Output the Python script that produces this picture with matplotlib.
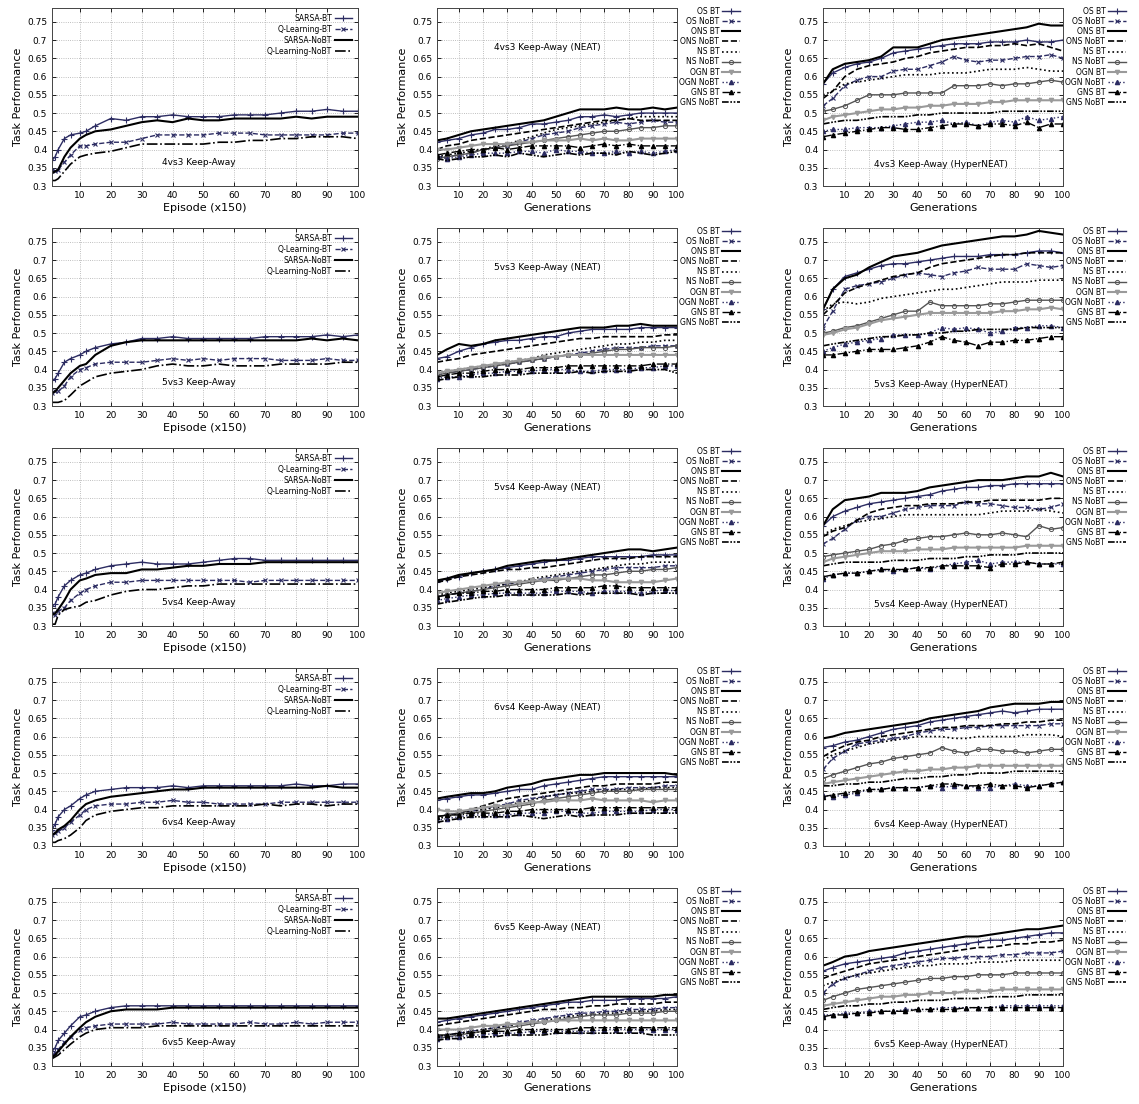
import matplotlib
matplotlib.use('Agg')
import matplotlib.pyplot as plt
from matplotlib.ticker import FuncFormatter, MultipleLocator

rl_x = [1, 2, 3, 5, 7, 10, 12, 15, 20, 25, 30, 35, 40, 45, 50, 55, 60, 65, 70, 75, 80, 85, 90, 95, 100]
ea_x = [1, 5, 10, 15, 20, 25, 30, 35, 40, 45, 50, 55, 60, 65, 70, 75, 80, 85, 90, 95, 100]

scenarios = ['4vs3', '5vs3', '5vs4', '6vs4', '6vs5']
rl_labels = ['SARSA-BT', 'Q-Learning-BT', 'SARSA-NoBT', 'Q-Learning-NoBT']
ea_labels = ['OS BT', 'OS NoBT', 'ONS BT', 'ONS NoBT', 'NS BT', 'NS NoBT',
             'OGN BT', 'OGN NoBT', 'GNS BT', 'GNS NoBT']

# ---- RL curves (SARSA-BT, Q-BT, SARSA-NoBT, Q-NoBT)
rl_4vs3 = [
    [0.37, 0.38, 0.40, 0.43, 0.44, 0.445, 0.45, 0.465, 0.485, 0.48, 0.49, 0.49, 0.495, 0.49, 0.49, 0.49, 0.495, 0.495, 0.495, 0.50, 0.505, 0.505, 0.51, 0.505, 0.505],
    [0.345, 0.34, 0.345, 0.365, 0.385, 0.41, 0.41, 0.415, 0.42, 0.42, 0.43, 0.44, 0.44, 0.44, 0.44, 0.445, 0.445, 0.445, 0.44, 0.44, 0.44, 0.44, 0.44, 0.445, 0.445],
    [0.335, 0.34, 0.345, 0.38, 0.405, 0.43, 0.44, 0.45, 0.455, 0.465, 0.475, 0.48, 0.475, 0.485, 0.48, 0.48, 0.485, 0.485, 0.485, 0.485, 0.49, 0.485, 0.49, 0.49, 0.49],
    [0.315, 0.315, 0.32, 0.34, 0.36, 0.38, 0.385, 0.39, 0.395, 0.405, 0.415, 0.415, 0.415, 0.415, 0.415, 0.42, 0.42, 0.425, 0.425, 0.43, 0.43, 0.435, 0.435, 0.435, 0.43],
]
rl_5vs3 = [
    [0.37, 0.375, 0.39, 0.42, 0.43, 0.44, 0.45, 0.46, 0.47, 0.475, 0.485, 0.485, 0.49, 0.485, 0.485, 0.485, 0.485, 0.485, 0.49, 0.49, 0.49, 0.49, 0.495, 0.49, 0.495],
    [0.335, 0.34, 0.34, 0.355, 0.38, 0.40, 0.405, 0.415, 0.42, 0.42, 0.42, 0.425, 0.43, 0.425, 0.43, 0.425, 0.43, 0.43, 0.43, 0.425, 0.425, 0.425, 0.43, 0.425, 0.425],
    [0.335, 0.34, 0.35, 0.37, 0.39, 0.41, 0.415, 0.44, 0.465, 0.475, 0.48, 0.48, 0.48, 0.48, 0.48, 0.48, 0.48, 0.48, 0.48, 0.48, 0.48, 0.485, 0.48, 0.485, 0.48],
    [0.31, 0.31, 0.31, 0.315, 0.33, 0.355, 0.365, 0.38, 0.39, 0.395, 0.40, 0.41, 0.415, 0.41, 0.41, 0.415, 0.41, 0.41, 0.41, 0.415, 0.415, 0.415, 0.415, 0.42, 0.42],
]
rl_5vs4 = [
    [0.355, 0.36, 0.38, 0.41, 0.425, 0.44, 0.445, 0.455, 0.465, 0.47, 0.475, 0.47, 0.47, 0.47, 0.475, 0.48, 0.485, 0.485, 0.48, 0.48, 0.48, 0.48, 0.48, 0.48, 0.48],
    [0.335, 0.33, 0.34, 0.35, 0.37, 0.39, 0.40, 0.41, 0.42, 0.42, 0.425, 0.425, 0.425, 0.425, 0.425, 0.425, 0.425, 0.42, 0.425, 0.425, 0.425, 0.425, 0.425, 0.425, 0.425],
    [0.33, 0.335, 0.345, 0.37, 0.40, 0.425, 0.43, 0.44, 0.445, 0.445, 0.455, 0.455, 0.46, 0.465, 0.465, 0.47, 0.47, 0.47, 0.475, 0.475, 0.475, 0.475, 0.475, 0.475, 0.475],
    [0.305, 0.305, 0.33, 0.345, 0.35, 0.355, 0.365, 0.37, 0.385, 0.395, 0.40, 0.40, 0.405, 0.41, 0.41, 0.415, 0.415, 0.415, 0.415, 0.415, 0.415, 0.415, 0.415, 0.415, 0.415],
]
rl_6vs4 = [
    [0.345, 0.36, 0.38, 0.40, 0.41, 0.43, 0.44, 0.45, 0.455, 0.46, 0.46, 0.46, 0.465, 0.46, 0.465, 0.465, 0.465, 0.465, 0.465, 0.465, 0.47, 0.465, 0.465, 0.47, 0.47],
    [0.33, 0.335, 0.34, 0.35, 0.365, 0.385, 0.40, 0.41, 0.415, 0.415, 0.42, 0.42, 0.425, 0.42, 0.42, 0.415, 0.415, 0.415, 0.415, 0.42, 0.42, 0.42, 0.42, 0.42, 0.42],
    [0.33, 0.335, 0.345, 0.355, 0.37, 0.40, 0.415, 0.425, 0.435, 0.44, 0.445, 0.45, 0.455, 0.455, 0.46, 0.46, 0.46, 0.46, 0.46, 0.46, 0.46, 0.46, 0.465, 0.46, 0.46],
    [0.31, 0.31, 0.315, 0.32, 0.33, 0.35, 0.37, 0.385, 0.395, 0.40, 0.405, 0.405, 0.41, 0.41, 0.41, 0.41, 0.41, 0.41, 0.415, 0.41, 0.415, 0.415, 0.41, 0.415, 0.415],
]
rl_6vs5 = [
    [0.34, 0.35, 0.37, 0.39, 0.41, 0.435, 0.44, 0.45, 0.46, 0.465, 0.465, 0.465, 0.465, 0.465, 0.465, 0.465, 0.465, 0.465, 0.465, 0.465, 0.465, 0.465, 0.465, 0.465, 0.465],
    [0.33, 0.335, 0.345, 0.365, 0.38, 0.40, 0.405, 0.41, 0.415, 0.415, 0.415, 0.415, 0.42, 0.415, 0.415, 0.415, 0.415, 0.42, 0.415, 0.415, 0.42, 0.415, 0.42, 0.42, 0.42],
    [0.325, 0.33, 0.34, 0.36, 0.38, 0.405, 0.42, 0.435, 0.45, 0.455, 0.455, 0.455, 0.46, 0.46, 0.46, 0.46, 0.46, 0.46, 0.46, 0.46, 0.46, 0.46, 0.46, 0.46, 0.46],
    [0.32, 0.325, 0.33, 0.345, 0.36, 0.38, 0.39, 0.40, 0.405, 0.405, 0.405, 0.41, 0.41, 0.41, 0.41, 0.41, 0.41, 0.41, 0.41, 0.41, 0.41, 0.41, 0.41, 0.41, 0.41],
]

# ---- NEAT curves (order as ea_labels)
neat_4vs3 = [
    [0.42, 0.425, 0.43, 0.44, 0.445, 0.455, 0.455, 0.46, 0.47, 0.47, 0.475, 0.48, 0.49, 0.49, 0.495, 0.49, 0.495, 0.5, 0.5, 0.5, 0.5],
    [0.38, 0.38, 0.385, 0.39, 0.40, 0.405, 0.41, 0.42, 0.43, 0.44, 0.445, 0.45, 0.46, 0.465, 0.47, 0.475, 0.47, 0.475, 0.48, 0.475, 0.475],
    [0.425, 0.43, 0.44, 0.45, 0.455, 0.46, 0.465, 0.47, 0.475, 0.48, 0.49, 0.5, 0.51, 0.51, 0.51, 0.515, 0.51, 0.51, 0.515, 0.51, 0.515],
    [0.40, 0.41, 0.415, 0.425, 0.43, 0.435, 0.44, 0.445, 0.45, 0.455, 0.46, 0.465, 0.47, 0.475, 0.48, 0.48, 0.485, 0.48, 0.48, 0.48, 0.48],
    [0.38, 0.385, 0.39, 0.395, 0.40, 0.41, 0.415, 0.425, 0.435, 0.445, 0.455, 0.46, 0.465, 0.47, 0.475, 0.48, 0.485, 0.49, 0.49, 0.49, 0.49],
    [0.375, 0.38, 0.385, 0.39, 0.40, 0.405, 0.41, 0.415, 0.42, 0.425, 0.43, 0.435, 0.44, 0.445, 0.45, 0.45, 0.455, 0.46, 0.46, 0.465, 0.465],
    [0.40, 0.40, 0.405, 0.41, 0.415, 0.415, 0.415, 0.42, 0.42, 0.425, 0.425, 0.425, 0.43, 0.425, 0.43, 0.425, 0.425, 0.43, 0.43, 0.43, 0.43],
    [0.38, 0.375, 0.38, 0.385, 0.39, 0.39, 0.39, 0.395, 0.395, 0.39, 0.40, 0.395, 0.395, 0.39, 0.39, 0.395, 0.39, 0.395, 0.39, 0.395, 0.40],
    [0.385, 0.39, 0.395, 0.40, 0.40, 0.405, 0.40, 0.405, 0.41, 0.41, 0.41, 0.41, 0.405, 0.41, 0.415, 0.41, 0.415, 0.41, 0.41, 0.41, 0.41],
    [0.375, 0.37, 0.375, 0.38, 0.38, 0.385, 0.38, 0.39, 0.385, 0.38, 0.385, 0.39, 0.385, 0.39, 0.39, 0.385, 0.395, 0.39, 0.385, 0.39, 0.395],
]
neat_5vs3 = [
    [0.43, 0.435, 0.45, 0.46, 0.47, 0.475, 0.48, 0.48, 0.485, 0.49, 0.49, 0.50, 0.505, 0.51, 0.51, 0.51, 0.51, 0.515, 0.515, 0.515, 0.515],
    [0.385, 0.39, 0.395, 0.40, 0.405, 0.41, 0.415, 0.42, 0.425, 0.43, 0.435, 0.44, 0.445, 0.45, 0.455, 0.46, 0.46, 0.46, 0.465, 0.465, 0.465],
    [0.44, 0.455, 0.47, 0.465, 0.47, 0.48, 0.485, 0.49, 0.495, 0.50, 0.505, 0.51, 0.515, 0.515, 0.515, 0.52, 0.52, 0.525, 0.52, 0.52, 0.52],
    [0.42, 0.425, 0.43, 0.44, 0.445, 0.45, 0.455, 0.46, 0.465, 0.47, 0.475, 0.48, 0.485, 0.485, 0.49, 0.49, 0.49, 0.49, 0.49, 0.495, 0.495],
    [0.39, 0.395, 0.40, 0.405, 0.41, 0.415, 0.42, 0.425, 0.43, 0.44, 0.445, 0.45, 0.455, 0.46, 0.465, 0.47, 0.47, 0.475, 0.475, 0.48, 0.48],
    [0.385, 0.39, 0.395, 0.40, 0.405, 0.41, 0.415, 0.42, 0.425, 0.43, 0.435, 0.44, 0.44, 0.445, 0.45, 0.455, 0.455, 0.46, 0.46, 0.46, 0.465],
    [0.39, 0.395, 0.40, 0.405, 0.41, 0.415, 0.42, 0.425, 0.43, 0.435, 0.435, 0.44, 0.44, 0.44, 0.44, 0.44, 0.44, 0.44, 0.44, 0.44, 0.44],
    [0.375, 0.38, 0.38, 0.385, 0.39, 0.39, 0.395, 0.395, 0.395, 0.40, 0.40, 0.40, 0.395, 0.395, 0.40, 0.40, 0.40, 0.405, 0.405, 0.41, 0.41],
    [0.38, 0.385, 0.39, 0.39, 0.395, 0.40, 0.40, 0.40, 0.405, 0.405, 0.405, 0.41, 0.41, 0.41, 0.41, 0.41, 0.41, 0.41, 0.415, 0.415, 0.415],
    [0.37, 0.375, 0.38, 0.38, 0.38, 0.385, 0.385, 0.385, 0.39, 0.39, 0.39, 0.39, 0.395, 0.39, 0.395, 0.395, 0.395, 0.40, 0.40, 0.40, 0.39],
]
neat_5vs4 = [
    [0.42, 0.43, 0.435, 0.445, 0.45, 0.455, 0.46, 0.465, 0.47, 0.475, 0.48, 0.48, 0.485, 0.49, 0.49, 0.49, 0.49, 0.49, 0.495, 0.495, 0.495],
    [0.38, 0.385, 0.39, 0.395, 0.40, 0.41, 0.415, 0.42, 0.425, 0.43, 0.435, 0.44, 0.445, 0.45, 0.455, 0.46, 0.46, 0.46, 0.46, 0.465, 0.465],
    [0.425, 0.43, 0.44, 0.445, 0.45, 0.455, 0.465, 0.47, 0.475, 0.48, 0.48, 0.485, 0.49, 0.495, 0.50, 0.505, 0.51, 0.51, 0.505, 0.51, 0.515],
    [0.42, 0.425, 0.435, 0.44, 0.445, 0.45, 0.455, 0.455, 0.46, 0.46, 0.465, 0.47, 0.475, 0.48, 0.485, 0.485, 0.485, 0.49, 0.49, 0.49, 0.49],
    [0.385, 0.39, 0.395, 0.40, 0.405, 0.41, 0.415, 0.42, 0.43, 0.435, 0.44, 0.445, 0.45, 0.455, 0.46, 0.465, 0.47, 0.47, 0.475, 0.475, 0.475],
    [0.38, 0.385, 0.39, 0.395, 0.40, 0.405, 0.41, 0.415, 0.42, 0.425, 0.425, 0.43, 0.435, 0.44, 0.44, 0.445, 0.45, 0.45, 0.455, 0.455, 0.46],
    [0.39, 0.395, 0.40, 0.405, 0.41, 0.415, 0.42, 0.42, 0.425, 0.425, 0.43, 0.43, 0.43, 0.425, 0.425, 0.42, 0.42, 0.42, 0.42, 0.425, 0.43],
    [0.37, 0.375, 0.38, 0.385, 0.385, 0.39, 0.39, 0.39, 0.39, 0.39, 0.395, 0.395, 0.395, 0.39, 0.395, 0.395, 0.395, 0.39, 0.395, 0.40, 0.395],
    [0.38, 0.385, 0.39, 0.39, 0.395, 0.395, 0.40, 0.40, 0.40, 0.40, 0.405, 0.405, 0.405, 0.405, 0.41, 0.41, 0.405, 0.405, 0.405, 0.405, 0.405],
    [0.36, 0.365, 0.37, 0.375, 0.38, 0.38, 0.385, 0.385, 0.385, 0.385, 0.385, 0.39, 0.385, 0.39, 0.39, 0.39, 0.39, 0.385, 0.39, 0.39, 0.39],
]
neat_6vs4 = [
    [0.425, 0.43, 0.435, 0.44, 0.44, 0.445, 0.45, 0.455, 0.455, 0.465, 0.47, 0.475, 0.48, 0.485, 0.49, 0.49, 0.49, 0.49, 0.49, 0.49, 0.49],
    [0.38, 0.385, 0.39, 0.395, 0.40, 0.41, 0.415, 0.425, 0.43, 0.435, 0.44, 0.445, 0.45, 0.455, 0.455, 0.455, 0.46, 0.46, 0.46, 0.465, 0.465],
    [0.43, 0.435, 0.44, 0.445, 0.445, 0.45, 0.46, 0.465, 0.47, 0.48, 0.485, 0.49, 0.495, 0.495, 0.50, 0.50, 0.50, 0.50, 0.50, 0.50, 0.495],
    [0.38, 0.385, 0.39, 0.40, 0.41, 0.42, 0.43, 0.435, 0.44, 0.445, 0.45, 0.455, 0.46, 0.465, 0.465, 0.47, 0.47, 0.47, 0.47, 0.475, 0.475],
    [0.375, 0.38, 0.39, 0.395, 0.40, 0.405, 0.41, 0.42, 0.425, 0.435, 0.44, 0.445, 0.445, 0.45, 0.45, 0.455, 0.455, 0.455, 0.46, 0.46, 0.46],
    [0.38, 0.385, 0.39, 0.39, 0.395, 0.40, 0.405, 0.41, 0.415, 0.425, 0.43, 0.435, 0.44, 0.445, 0.45, 0.45, 0.45, 0.455, 0.455, 0.455, 0.455],
    [0.40, 0.395, 0.395, 0.40, 0.405, 0.41, 0.41, 0.415, 0.42, 0.42, 0.425, 0.425, 0.425, 0.43, 0.425, 0.425, 0.425, 0.425, 0.42, 0.425, 0.425],
    [0.37, 0.375, 0.38, 0.385, 0.385, 0.385, 0.385, 0.39, 0.39, 0.39, 0.395, 0.395, 0.39, 0.39, 0.395, 0.395, 0.395, 0.395, 0.40, 0.40, 0.40],
    [0.38, 0.385, 0.385, 0.39, 0.39, 0.39, 0.395, 0.395, 0.40, 0.40, 0.40, 0.40, 0.40, 0.405, 0.405, 0.405, 0.405, 0.405, 0.405, 0.405, 0.405],
    [0.365, 0.37, 0.375, 0.38, 0.38, 0.38, 0.38, 0.385, 0.38, 0.375, 0.38, 0.385, 0.38, 0.385, 0.385, 0.385, 0.39, 0.39, 0.39, 0.39, 0.39],
]
neat_6vs5 = [
    [0.42, 0.425, 0.43, 0.435, 0.44, 0.445, 0.45, 0.455, 0.46, 0.465, 0.47, 0.475, 0.475, 0.48, 0.48, 0.48, 0.485, 0.485, 0.485, 0.485, 0.49],
    [0.38, 0.385, 0.39, 0.395, 0.40, 0.405, 0.41, 0.42, 0.425, 0.43, 0.435, 0.44, 0.445, 0.445, 0.45, 0.45, 0.455, 0.455, 0.455, 0.46, 0.46],
    [0.43, 0.43, 0.435, 0.44, 0.445, 0.45, 0.455, 0.46, 0.465, 0.47, 0.475, 0.48, 0.485, 0.49, 0.49, 0.49, 0.49, 0.49, 0.49, 0.495, 0.495],
    [0.41, 0.415, 0.42, 0.425, 0.43, 0.435, 0.44, 0.445, 0.45, 0.455, 0.455, 0.46, 0.46, 0.465, 0.465, 0.47, 0.47, 0.47, 0.47, 0.475, 0.475],
    [0.38, 0.385, 0.39, 0.395, 0.40, 0.405, 0.41, 0.415, 0.42, 0.425, 0.43, 0.435, 0.44, 0.44, 0.445, 0.445, 0.45, 0.45, 0.45, 0.455, 0.455],
    [0.375, 0.38, 0.385, 0.39, 0.395, 0.40, 0.405, 0.41, 0.415, 0.42, 0.425, 0.43, 0.435, 0.44, 0.44, 0.44, 0.445, 0.445, 0.445, 0.45, 0.45],
    [0.40, 0.40, 0.40, 0.405, 0.41, 0.41, 0.415, 0.415, 0.42, 0.42, 0.425, 0.425, 0.425, 0.425, 0.425, 0.425, 0.425, 0.425, 0.425, 0.425, 0.425],
    [0.375, 0.38, 0.38, 0.385, 0.385, 0.39, 0.39, 0.39, 0.395, 0.395, 0.395, 0.395, 0.395, 0.395, 0.40, 0.40, 0.40, 0.40, 0.40, 0.40, 0.40],
    [0.385, 0.385, 0.39, 0.39, 0.395, 0.395, 0.395, 0.40, 0.40, 0.40, 0.40, 0.40, 0.405, 0.405, 0.405, 0.405, 0.405, 0.405, 0.405, 0.405, 0.405],
    [0.37, 0.375, 0.375, 0.38, 0.38, 0.38, 0.385, 0.385, 0.385, 0.385, 0.39, 0.39, 0.39, 0.39, 0.39, 0.39, 0.39, 0.39, 0.385, 0.385, 0.385],
]

# ---- HyperNEAT curves (order as ea_labels)
hyper_4vs3 = [
    [0.58, 0.61, 0.625, 0.635, 0.64, 0.65, 0.665, 0.67, 0.675, 0.68, 0.685, 0.69, 0.69, 0.69, 0.695, 0.695, 0.695, 0.70, 0.695, 0.695, 0.70],
    [0.52, 0.54, 0.575, 0.59, 0.60, 0.60, 0.615, 0.62, 0.62, 0.63, 0.64, 0.655, 0.645, 0.64, 0.645, 0.645, 0.65, 0.655, 0.655, 0.66, 0.65],
    [0.58, 0.62, 0.635, 0.64, 0.645, 0.655, 0.68, 0.68, 0.68, 0.69, 0.70, 0.705, 0.71, 0.715, 0.72, 0.725, 0.73, 0.735, 0.745, 0.74, 0.74],
    [0.54, 0.56, 0.60, 0.62, 0.63, 0.635, 0.64, 0.65, 0.655, 0.665, 0.67, 0.675, 0.68, 0.68, 0.685, 0.685, 0.69, 0.685, 0.69, 0.68, 0.67],
    [0.55, 0.56, 0.58, 0.585, 0.59, 0.595, 0.60, 0.605, 0.605, 0.605, 0.61, 0.61, 0.61, 0.615, 0.62, 0.62, 0.62, 0.625, 0.62, 0.615, 0.615],
    [0.505, 0.51, 0.52, 0.535, 0.55, 0.55, 0.55, 0.555, 0.555, 0.555, 0.555, 0.575, 0.575, 0.575, 0.58, 0.575, 0.58, 0.58, 0.585, 0.59, 0.585],
    [0.48, 0.49, 0.495, 0.50, 0.505, 0.51, 0.51, 0.515, 0.515, 0.52, 0.52, 0.525, 0.525, 0.525, 0.53, 0.53, 0.535, 0.535, 0.535, 0.535, 0.535],
    [0.45, 0.455, 0.455, 0.46, 0.46, 0.46, 0.465, 0.47, 0.475, 0.475, 0.48, 0.47, 0.475, 0.465, 0.475, 0.48, 0.475, 0.49, 0.48, 0.485, 0.49],
    [0.435, 0.44, 0.445, 0.45, 0.455, 0.46, 0.46, 0.455, 0.455, 0.46, 0.465, 0.47, 0.47, 0.465, 0.47, 0.47, 0.465, 0.475, 0.46, 0.47, 0.47],
    [0.47, 0.475, 0.48, 0.48, 0.485, 0.49, 0.49, 0.49, 0.495, 0.495, 0.50, 0.50, 0.50, 0.50, 0.50, 0.505, 0.505, 0.505, 0.505, 0.505, 0.505],
]
hyper_5vs3 = [
    [0.565, 0.62, 0.655, 0.665, 0.675, 0.685, 0.69, 0.69, 0.695, 0.70, 0.705, 0.71, 0.71, 0.71, 0.715, 0.715, 0.715, 0.72, 0.725, 0.725, 0.72],
    [0.515, 0.56, 0.62, 0.63, 0.635, 0.64, 0.65, 0.66, 0.665, 0.66, 0.655, 0.665, 0.67, 0.68, 0.675, 0.675, 0.675, 0.69, 0.685, 0.68, 0.685],
    [0.565, 0.62, 0.65, 0.66, 0.68, 0.695, 0.71, 0.715, 0.72, 0.73, 0.74, 0.745, 0.75, 0.755, 0.76, 0.765, 0.765, 0.77, 0.78, 0.775, 0.77],
    [0.55, 0.575, 0.61, 0.625, 0.635, 0.645, 0.655, 0.66, 0.665, 0.68, 0.69, 0.695, 0.70, 0.705, 0.71, 0.715, 0.715, 0.72, 0.72, 0.72, 0.72],
    [0.56, 0.58, 0.585, 0.58, 0.585, 0.595, 0.60, 0.605, 0.61, 0.615, 0.62, 0.62, 0.625, 0.63, 0.635, 0.64, 0.64, 0.64, 0.645, 0.645, 0.645],
    [0.50, 0.505, 0.515, 0.52, 0.53, 0.54, 0.55, 0.56, 0.56, 0.585, 0.575, 0.575, 0.575, 0.575, 0.58, 0.58, 0.585, 0.59, 0.59, 0.59, 0.59],
    [0.495, 0.50, 0.51, 0.515, 0.525, 0.535, 0.54, 0.545, 0.55, 0.555, 0.555, 0.555, 0.555, 0.555, 0.555, 0.56, 0.56, 0.565, 0.565, 0.57, 0.565],
    [0.45, 0.46, 0.47, 0.475, 0.48, 0.485, 0.495, 0.495, 0.495, 0.50, 0.515, 0.51, 0.515, 0.51, 0.50, 0.505, 0.515, 0.515, 0.52, 0.52, 0.515],
    [0.44, 0.44, 0.445, 0.45, 0.455, 0.455, 0.455, 0.46, 0.465, 0.475, 0.49, 0.48, 0.475, 0.465, 0.475, 0.475, 0.48, 0.48, 0.485, 0.49, 0.49],
    [0.465, 0.47, 0.475, 0.48, 0.485, 0.49, 0.49, 0.495, 0.495, 0.50, 0.50, 0.505, 0.505, 0.51, 0.51, 0.51, 0.51, 0.515, 0.515, 0.515, 0.515],
]
hyper_5vs4 = [
    [0.575, 0.60, 0.615, 0.625, 0.635, 0.64, 0.645, 0.65, 0.655, 0.66, 0.67, 0.675, 0.68, 0.68, 0.685, 0.685, 0.69, 0.69, 0.69, 0.69, 0.69],
    [0.525, 0.54, 0.565, 0.59, 0.60, 0.60, 0.61, 0.62, 0.625, 0.63, 0.63, 0.63, 0.64, 0.635, 0.635, 0.63, 0.625, 0.625, 0.62, 0.625, 0.635],
    [0.575, 0.62, 0.645, 0.65, 0.655, 0.665, 0.665, 0.665, 0.67, 0.68, 0.685, 0.69, 0.695, 0.70, 0.70, 0.70, 0.705, 0.71, 0.71, 0.72, 0.71],
    [0.545, 0.56, 0.57, 0.59, 0.61, 0.62, 0.625, 0.63, 0.63, 0.635, 0.635, 0.635, 0.64, 0.64, 0.645, 0.645, 0.645, 0.645, 0.645, 0.65, 0.65],
    [0.55, 0.565, 0.575, 0.585, 0.59, 0.595, 0.60, 0.605, 0.605, 0.605, 0.605, 0.605, 0.605, 0.605, 0.61, 0.615, 0.615, 0.615, 0.62, 0.615, 0.61],
    [0.49, 0.495, 0.50, 0.505, 0.51, 0.52, 0.525, 0.535, 0.54, 0.545, 0.545, 0.55, 0.555, 0.55, 0.55, 0.555, 0.55, 0.545, 0.575, 0.565, 0.57],
    [0.475, 0.485, 0.49, 0.495, 0.50, 0.505, 0.505, 0.505, 0.51, 0.51, 0.51, 0.515, 0.515, 0.515, 0.515, 0.515, 0.515, 0.52, 0.52, 0.52, 0.52],
    [0.43, 0.44, 0.445, 0.445, 0.45, 0.455, 0.45, 0.455, 0.46, 0.455, 0.465, 0.47, 0.475, 0.48, 0.47, 0.475, 0.475, 0.475, 0.47, 0.47, 0.47],
    [0.435, 0.44, 0.445, 0.445, 0.45, 0.455, 0.455, 0.455, 0.46, 0.46, 0.465, 0.465, 0.465, 0.465, 0.46, 0.47, 0.47, 0.475, 0.47, 0.47, 0.475],
    [0.465, 0.47, 0.475, 0.475, 0.475, 0.475, 0.48, 0.48, 0.48, 0.485, 0.485, 0.485, 0.49, 0.49, 0.495, 0.495, 0.495, 0.50, 0.50, 0.50, 0.50],
]
hyper_6vs4 = [
    [0.57, 0.575, 0.585, 0.59, 0.60, 0.61, 0.62, 0.625, 0.63, 0.64, 0.645, 0.65, 0.655, 0.66, 0.665, 0.67, 0.665, 0.67, 0.675, 0.675, 0.675],
    [0.51, 0.54, 0.56, 0.58, 0.585, 0.59, 0.595, 0.60, 0.61, 0.615, 0.62, 0.62, 0.625, 0.625, 0.63, 0.63, 0.63, 0.63, 0.63, 0.635, 0.635],
    [0.595, 0.60, 0.61, 0.615, 0.62, 0.625, 0.63, 0.635, 0.64, 0.65, 0.655, 0.66, 0.665, 0.67, 0.68, 0.685, 0.69, 0.69, 0.69, 0.695, 0.695],
    [0.545, 0.56, 0.575, 0.585, 0.59, 0.60, 0.605, 0.61, 0.615, 0.62, 0.625, 0.625, 0.63, 0.63, 0.63, 0.635, 0.635, 0.64, 0.64, 0.645, 0.645],
    [0.535, 0.55, 0.56, 0.57, 0.58, 0.585, 0.59, 0.595, 0.60, 0.60, 0.60, 0.595, 0.595, 0.60, 0.60, 0.60, 0.60, 0.605, 0.605, 0.605, 0.60],
    [0.485, 0.495, 0.505, 0.515, 0.525, 0.53, 0.54, 0.545, 0.55, 0.555, 0.57, 0.56, 0.555, 0.565, 0.565, 0.56, 0.56, 0.555, 0.56, 0.565, 0.565],
    [0.47, 0.475, 0.48, 0.485, 0.49, 0.495, 0.50, 0.505, 0.505, 0.51, 0.51, 0.515, 0.515, 0.52, 0.52, 0.52, 0.52, 0.52, 0.52, 0.52, 0.52],
    [0.44, 0.435, 0.44, 0.445, 0.455, 0.455, 0.46, 0.46, 0.46, 0.465, 0.46, 0.465, 0.465, 0.46, 0.46, 0.465, 0.47, 0.465, 0.465, 0.47, 0.475],
    [0.435, 0.44, 0.445, 0.45, 0.455, 0.455, 0.46, 0.46, 0.46, 0.465, 0.47, 0.47, 0.465, 0.465, 0.47, 0.465, 0.465, 0.46, 0.465, 0.47, 0.475],
    [0.465, 0.465, 0.47, 0.47, 0.475, 0.475, 0.48, 0.485, 0.485, 0.49, 0.49, 0.495, 0.495, 0.50, 0.50, 0.50, 0.505, 0.505, 0.505, 0.505, 0.505],
]
hyper_6vs5 = [
    [0.56, 0.57, 0.58, 0.585, 0.59, 0.595, 0.60, 0.61, 0.615, 0.62, 0.625, 0.63, 0.635, 0.64, 0.645, 0.645, 0.65, 0.655, 0.66, 0.665, 0.665],
    [0.50, 0.525, 0.54, 0.55, 0.56, 0.57, 0.575, 0.58, 0.585, 0.59, 0.595, 0.595, 0.60, 0.60, 0.60, 0.605, 0.605, 0.61, 0.61, 0.61, 0.615],
    [0.575, 0.585, 0.60, 0.605, 0.615, 0.62, 0.625, 0.63, 0.635, 0.64, 0.645, 0.65, 0.655, 0.655, 0.66, 0.665, 0.67, 0.675, 0.675, 0.68, 0.685],
    [0.54, 0.55, 0.56, 0.57, 0.58, 0.585, 0.59, 0.595, 0.60, 0.605, 0.61, 0.615, 0.62, 0.625, 0.625, 0.63, 0.635, 0.635, 0.64, 0.64, 0.645],
    [0.52, 0.53, 0.54, 0.55, 0.555, 0.56, 0.565, 0.57, 0.575, 0.575, 0.58, 0.58, 0.58, 0.585, 0.585, 0.585, 0.59, 0.59, 0.59, 0.59, 0.59],
    [0.48, 0.49, 0.50, 0.51, 0.515, 0.52, 0.525, 0.53, 0.535, 0.54, 0.54, 0.545, 0.545, 0.55, 0.55, 0.55, 0.555, 0.555, 0.555, 0.555, 0.555],
    [0.465, 0.47, 0.475, 0.48, 0.485, 0.49, 0.49, 0.495, 0.495, 0.50, 0.50, 0.50, 0.505, 0.505, 0.505, 0.51, 0.51, 0.51, 0.51, 0.51, 0.51],
    [0.44, 0.44, 0.445, 0.445, 0.45, 0.45, 0.45, 0.455, 0.455, 0.455, 0.46, 0.46, 0.46, 0.46, 0.46, 0.465, 0.465, 0.465, 0.465, 0.465, 0.465],
    [0.435, 0.44, 0.44, 0.445, 0.445, 0.45, 0.45, 0.45, 0.455, 0.455, 0.455, 0.455, 0.46, 0.46, 0.46, 0.46, 0.46, 0.46, 0.46, 0.46, 0.46],
    [0.455, 0.46, 0.465, 0.465, 0.47, 0.47, 0.475, 0.475, 0.48, 0.48, 0.48, 0.485, 0.485, 0.485, 0.49, 0.49, 0.49, 0.495, 0.495, 0.495, 0.495],
]

rl_rows = [rl_4vs3, rl_5vs3, rl_5vs4, rl_6vs4, rl_6vs5]
neat_rows = [neat_4vs3, neat_5vs3, neat_5vs4, neat_6vs4, neat_6vs5]
hyper_rows = [hyper_4vs3, hyper_5vs3, hyper_5vs4, hyper_6vs4, hyper_6vs5]

navy = '#2c2c62'
rl_styles = [
    dict(color=navy, ls='-', lw=1.0, marker='+', ms=4, mew=0.8),
    dict(color=navy, ls='--', lw=1.0, marker='x', ms=3.5, mew=0.8),
    dict(color='black', ls='-', lw=1.5),
    dict(color='black', ls='-.', lw=1.2),
]
ea_styles = [
    dict(color=navy, ls='-', lw=1.0, marker='+', ms=4, mew=0.8),
    dict(color=navy, ls='--', lw=1.0, marker='x', ms=3.5, mew=0.8),
    dict(color='black', ls='-', lw=1.5),
    dict(color='black', ls='--', lw=1.2),
    dict(color='black', ls=':', lw=1.2),
    dict(color='#555555', ls='-', lw=1.0, marker='o', ms=3, mfc='none', mew=0.7),
    dict(color='#9a9a9a', ls='-', lw=1.5, marker='v', ms=3),
    dict(color=navy, ls=':', lw=1.0, marker='^', ms=3),
    dict(color='black', ls='-.', lw=1.0, marker='^', ms=3),
    dict(color='black', ls=(0, (4, 1, 1, 1, 1, 1)), lw=1.2),
]

plt.rcParams['font.family'] = 'DejaVu Sans'

W, H = 1139, 1104
fig = plt.figure(figsize=(W / 100, H / 100), dpi=100)

col_left = [52, 437, 823]
col_width = [306, 240, 240]
ax_h = 178


def style_axes(ax, xlabel):
    ax.set_xlim(1, 100)
    ax.set_ylim(0.3, 0.788)
    ax.yaxis.set_major_locator(MultipleLocator(0.05))
    ax.yaxis.set_major_formatter(FuncFormatter(lambda v, p: '%g' % round(v, 2)))
    ax.set_xticks(range(10, 101, 10))
    ax.tick_params(direction='in', top=True, right=True, labelsize=6.5, length=3, width=0.6)
    ax.grid(True, linestyle=':', color='#aaaaaa', linewidth=0.6)
    for s in ax.spines.values():
        s.set_linewidth(0.7)
        s.set_color('#444444')
    ax.set_xlabel(xlabel, fontsize=8, labelpad=2)
    ax.set_ylabel('Task Performance', fontsize=8, labelpad=3)


for r in range(5):
    top = 8 + 220 * r
    for c in range(3):
        rect = [col_left[c] / W, 1 - (top + ax_h) / H, col_width[c] / W, ax_h / H]
        ax = fig.add_axes(rect)
        if c == 0:
            for vals, lab, st in zip(rl_rows[r], rl_labels, rl_styles):
                ax.plot(rl_x, vals, label=lab, **st)
            style_axes(ax, 'Episode (x150)')
            ax.text(0.48, 0.13, scenarios[r] + ' Keep-Away', transform=ax.transAxes,
                    ha='center', va='center', fontsize=6.5)
            ax.legend(loc='upper right', bbox_to_anchor=(1.0, 1.0), frameon=False,
                      markerfirst=False, fontsize=5.5, handlelength=2.2,
                      handletextpad=0.4, labelspacing=0.25, borderpad=0.3)
        else:
            data = neat_rows[r] if c == 1 else hyper_rows[r]
            for vals, lab, st in zip(data, ea_labels, ea_styles):
                ax.plot(ea_x, vals, label=lab, **st)
            style_axes(ax, 'Generations')
            if c == 1:
                ax.text(0.46, 0.78, scenarios[r] + ' Keep-Away (NEAT)', transform=ax.transAxes,
                        ha='center', va='center', fontsize=6.5)
            else:
                ax.text(0.49, 0.12, scenarios[r] + ' Keep-Away (HyperNEAT)', transform=ax.transAxes,
                        ha='center', va='center', fontsize=6.5)
            ax.legend(loc='upper left', bbox_to_anchor=(1.0, 1.02), frameon=False,
                      markerfirst=False, fontsize=5.5, handlelength=2.4,
                      handletextpad=0.3, labelspacing=0.15, borderpad=0.2,
                      borderaxespad=0.1)

fig.savefig('out.png', dpi=100)
